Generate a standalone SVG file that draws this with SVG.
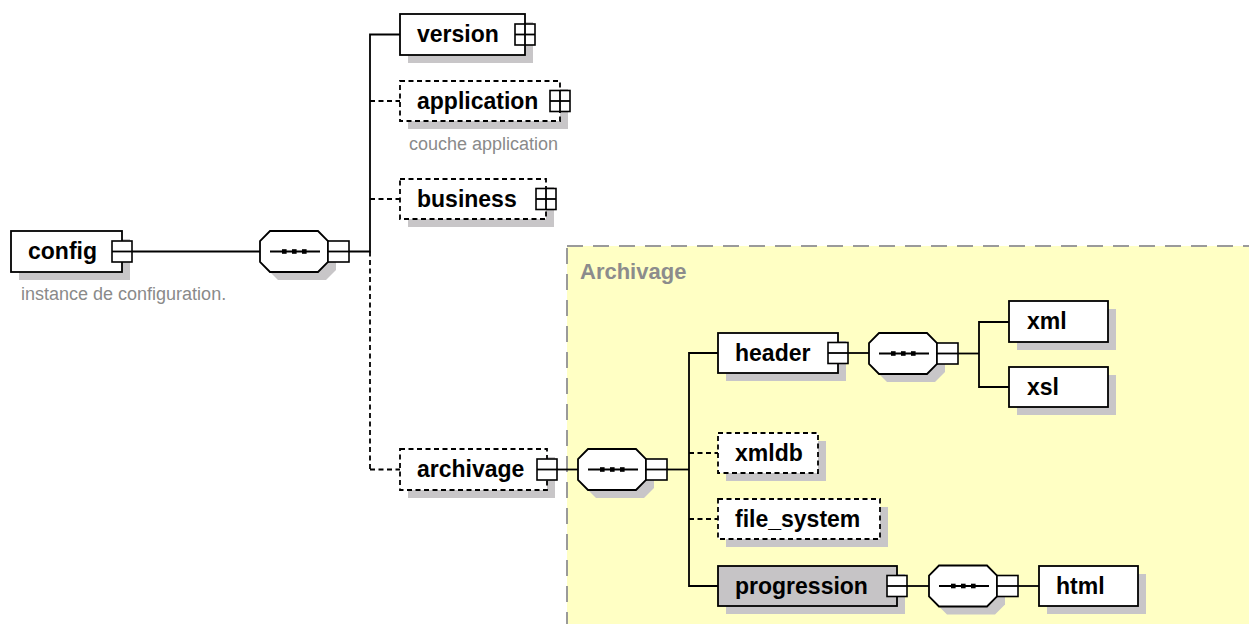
<svg xmlns="http://www.w3.org/2000/svg" width="1249" height="624" viewBox="0 0 1249 624">
<defs>
<style>
.box{fill:#fff;stroke:#000;stroke-width:1.8}
.opt{fill:#fff;stroke:#000;stroke-width:1.8;stroke-dasharray:5 3.5}
.gray{fill:#c6c4c6;stroke:#000;stroke-width:1.8}
.shadow{fill:#c8c6c8;stroke:none}
.lbl{font-family:"Liberation Sans",Arial,sans-serif;font-weight:bold;font-size:23px;fill:#000}
.note{font-family:"Liberation Sans",Arial,sans-serif;font-size:18px;fill:#8a8a8a}
.grp{font-family:"Liberation Sans",Arial,sans-serif;font-weight:bold;font-size:22px;fill:#8c8c8c}
.icon{fill:#fff;stroke:#000;stroke-width:1.6}
.ln{fill:none;stroke:#000;stroke-width:1.8}
.dln{fill:none;stroke:#000;stroke-width:1.8;stroke-dasharray:5 3.5}
.seq{fill:#fff;stroke:#000;stroke-width:1.8}
</style>
<g id="seqShape">
<polygon class="shadow" points="18,8 66,8 76,18 76,39 66,49 18,49 8,39 8,18"/>
<polygon class="seq" points="10,0 58,0 68,10 68,31 58,41 10,41 0,31 0,10"/>
<line class="ln" x1="10" y1="20.5" x2="60" y2="20.5"/>
<rect x="22" y="18.2" width="4.6" height="4.6" fill="#000"/>
<rect x="32" y="18.2" width="4.6" height="4.6" fill="#000"/>
<rect x="42" y="18.2" width="4.6" height="4.6" fill="#000"/>
<rect class="icon" x="68" y="10" width="21" height="21"/>
<line class="ln" x1="68" y1="20.5" x2="89" y2="20.5"/>
</g>
<g id="minusIcon">
<rect class="icon" x="-10" y="-10.5" width="20" height="21"/>
<line class="ln" x1="-10" y1="0" x2="10" y2="0"/>
</g>
<g id="plusIcon">
<rect class="icon" x="-10" y="-10.5" width="20" height="21"/>
<line class="ln" x1="-10" y1="0" x2="10" y2="0"/>
<line class="ln" x1="0" y1="-10.5" x2="0" y2="10.5"/>
</g>
</defs>

<rect width="1249" height="624" fill="#fff"/>

<g id="group-archivage">
<rect x="567" y="246" width="720" height="420" fill="#ffffc4" stroke="#9a9a9a" stroke-width="2" stroke-dasharray="16 10"/>
<text class="grp" x="580" y="279">Archivage</text>
</g>

<g id="connectors">
<path class="ln" d="M132 251.5 H260"/>
<path class="ln" d="M349 251.5 H370 V34.5 H400"/>
<path class="dln" d="M370 251.5 V469.5"/>
<path class="dln" d="M370 101 H400"/>
<path class="dln" d="M370 199 H400"/>
<path class="dln" d="M370 469.5 H400"/>
<path class="ln" d="M557 469.5 H578"/>
<path class="ln" d="M667 469.5 H689"/>
<path class="ln" d="M718 353 H689 V586 H718"/>
<path class="dln" d="M689 453 H718"/>
<path class="dln" d="M689 519 H718"/>
<path class="ln" d="M848 353 H869"/>
<path class="ln" d="M958 353.5 H979"/>
<path class="ln" d="M1009 322 H979 V387 H1009"/>
<path class="ln" d="M907 586 H929"/>
<path class="ln" d="M1018 586 H1039"/>
</g>

<g id="node-config">
<rect class="shadow" x="19" y="239" width="111" height="41"/>
<rect class="box" x="11" y="231" width="111" height="41"/>
<text class="lbl" x="28" y="259">config</text>
<use href="#minusIcon" x="122" y="251.5"/>
<text class="note" x="21" y="300">instance de configuration.</text>
</g>

<g id="seq-config">
<use href="#seqShape" x="260" y="231"/>
</g>

<g id="node-version">
<rect class="shadow" x="408" y="22" width="125" height="41"/>
<rect class="box" x="400" y="14" width="125" height="41"/>
<text class="lbl" x="417" y="42">version</text>
<use href="#plusIcon" x="525" y="34.5"/>
</g>

<g id="node-application">
<rect class="shadow" x="408" y="89" width="160" height="40"/>
<rect class="opt" x="400" y="81" width="160" height="40"/>
<text class="lbl" x="417" y="108.5">application</text>
<use href="#plusIcon" x="560" y="101"/>
<text class="note" x="409" y="150">couche application</text>
</g>

<g id="node-business">
<rect class="shadow" x="408" y="187" width="146" height="40"/>
<rect class="opt" x="400" y="179" width="146" height="40"/>
<text class="lbl" x="417" y="206.5">business</text>
<use href="#plusIcon" x="546" y="199"/>
</g>

<g id="node-archivage">
<rect class="shadow" x="408" y="457" width="147" height="41"/>
<rect class="opt" x="400" y="449" width="147" height="41"/>
<text class="lbl" x="417" y="477">archivage</text>
<use href="#minusIcon" x="547" y="469.5"/>
</g>

<g id="seq-archivage">
<use href="#seqShape" x="578" y="449"/>
</g>

<g id="node-header">
<rect class="shadow" x="726" y="341" width="120" height="40"/>
<rect class="box" x="718" y="333" width="120" height="40"/>
<text class="lbl" x="735" y="360.5">header</text>
<use href="#minusIcon" x="838" y="353"/>
</g>

<g id="seq-header">
<use href="#seqShape" x="869" y="333"/>
</g>

<g id="node-xml">
<rect class="shadow" x="1017" y="309" width="99" height="41"/>
<rect class="box" x="1009" y="301" width="99" height="41"/>
<text class="lbl" x="1027" y="329">xml</text>
</g>

<g id="node-xsl">
<rect class="shadow" x="1017" y="375" width="99" height="40"/>
<rect class="box" x="1009" y="367" width="99" height="40"/>
<text class="lbl" x="1027" y="394.5">xsl</text>
</g>

<g id="node-xmldb">
<rect class="shadow" x="726" y="441" width="100" height="40"/>
<rect class="opt" x="718" y="433" width="100" height="40"/>
<text class="lbl" x="735" y="460.5">xmldb</text>
</g>

<g id="node-file_system">
<rect class="shadow" x="726" y="507" width="162" height="40"/>
<rect class="opt" x="718" y="499" width="162" height="40"/>
<text class="lbl" x="735" y="526.5">file_system</text>
</g>

<g id="node-progression">
<rect class="shadow" x="726" y="574" width="179" height="40"/>
<rect class="gray" x="718" y="566" width="179" height="40"/>
<text class="lbl" x="735" y="593.5">progression</text>
<use href="#minusIcon" x="897" y="586"/>
</g>

<g id="seq-progression">
<use href="#seqShape" x="929" y="565.5"/>
</g>

<g id="node-html">
<rect class="shadow" x="1047" y="574" width="99" height="40"/>
<rect class="box" x="1039" y="566" width="99" height="40"/>
<text class="lbl" x="1056" y="593.5">html</text>
</g>
</svg>
